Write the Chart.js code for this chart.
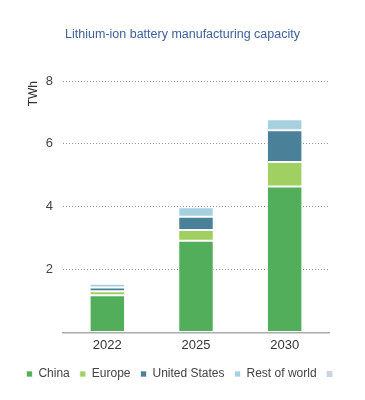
<!DOCTYPE html>
<html>
<head>
<meta charset="utf-8">
<script src="https://cdn.jsdelivr.net/npm/chart.js@4"></script>
<style>
  html, body { margin: 0; padding: 0; background: #fff; }
  #wrap { width: 365px; height: 400px; }
</style>
</head>
<body>
<div id="wrap"><canvas id="myChart" width="365" height="400"></canvas></div>
<script>
var years = ['2022', '2025', '2030']
var china = [1.18, 2.92, 4.64]
var europe = [0.13, 0.34, 0.78]
var unitedStates = [0.12, 0.42, 1.01]
var restOfWorld = [0.12, 0.30, 0.35]

Chart.defaults.font.family = '"Liberation Sans", Arial, sans-serif'
Chart.defaults.font.size = 12
Chart.defaults.color = '#444'

var ctx = document.getElementById('myChart').getContext('2d');
var myChart = new Chart(ctx, {
    type: 'bar',
    data: {
        labels: years,
        datasets: [
            { label: 'China', data: china, backgroundColor: '#52ae5b' },
            { label: 'Europe', data: europe, backgroundColor: '#a0cf62' },
            { label: 'United States', data: unitedStates, backgroundColor: '#4a8198' },
            { label: 'Rest of world', data: restOfWorld, backgroundColor: '#a6d0e0' }
        ].map(function (d) {
            d.borderColor = 'rgba(255,255,255,0.7)'
            d.borderWidth = 1
            d.borderSkipped = false
            d.categoryPercentage = 0.4
            d.barPercentage = 1
            return d
        })
    },
    options: {
        responsive: false,
        animation: false,
        layout: {
            padding: { top: 27, left: 0, right: 0, bottom: 10 }
        },
        plugins: {
            title: {
                display: true,
                text: 'Lithium-ion battery manufacturing capacity',
                color: '#3d5f99',
                font: { size: 12.5, weight: 'normal' },
                padding: { top: 0, bottom: 39 }
            },
            legend: {
                position: 'bottom',
                labels: {
                    boxWidth: 6,
                    boxHeight: 6,
                    padding: 10,
                    color: '#444',
                    font: { size: 12 },
                    generateLabels: function (chart) {
                        var items = Chart.defaults.plugins.legend.labels.generateLabels(chart)
                        // the source legend has a stray, unlabeled last swatch
                        items.push({ text: '', fillStyle: '#c9d6e2', strokeStyle: '#c9d6e2', lineWidth: 0, hidden: false, datasetIndex: -1 })
                        return items
                    }
                }
            },
            tooltip: { enabled: false }
        },
        scales: {
            x: {
                stacked: true,
                grid: { display: false, drawTicks: false, tickLength: 0 },
                border: { display: true, color: '#aaa', width: 1.5 },
                ticks: { padding: 5, color: '#333', font: { size: 13 } }
            },
            y: {
                stacked: true,
                min: 0,
                max: 8,
                afterFit: function (s) { s.width = 63 },
                title: {
                    display: true,
                    text: 'TWh',
                    align: 'end',
                    color: '#333',
                    font: { size: 12 },
                    padding: { top: 26, bottom: 0 }
                },
                ticks: {
                    stepSize: 2,
                    padding: 10,
                    color: '#444',
                    font: { size: 13 },
                    callback: function (v) { return v === 0 ? '' : v }
                },
                grid: {
                    drawTicks: false,
                    color: function (c) { return c.tick.value === 0 ? 'rgba(0,0,0,0)' : '#999' },
                    lineWidth: 1
                },
                border: { display: false, dash: [1, 2] }
            },
            right: {
                position: 'right',
                display: true,
                afterFit: function (s) { s.width = 36 },
                ticks: { display: false },
                grid: { display: false },
                border: { display: false }
            }
        }
    }
});
</script>
</body>
</html>
